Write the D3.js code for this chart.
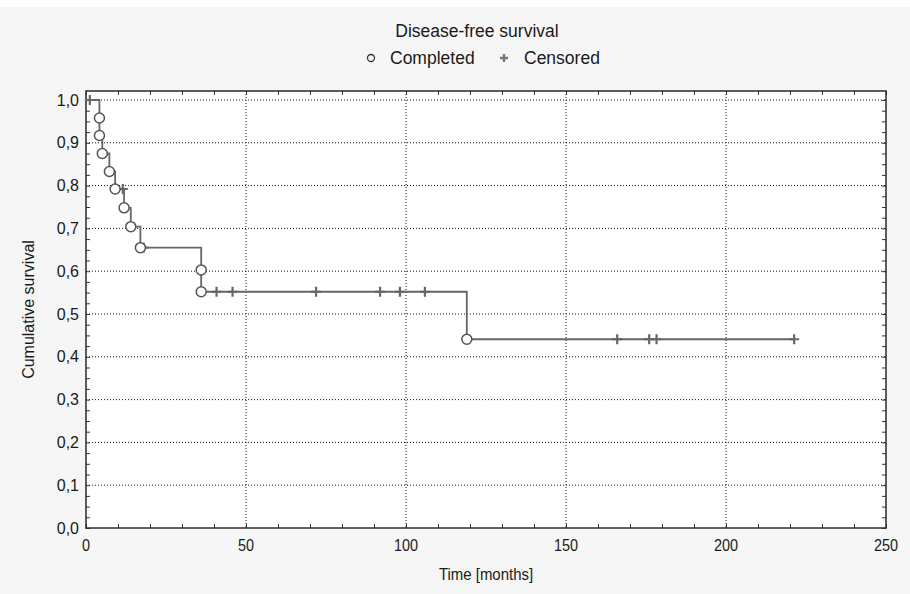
<!DOCTYPE html>
<html>
<head>
<meta charset="utf-8">
<script src="https://cdn.jsdelivr.net/npm/d3@7"></script>
<style>
  body { margin: 0; background: #f5f5f5; }
  svg { display: block; }
  text { font-family: "Liberation Sans", Arial, sans-serif; fill: #1a1a1a; }
</style>
</head>
<body>
<div id="chart"></div>
<script>
// Kaplan-Meier estimates
var eventTimes = [4.2, 4.2, 5.1, 7.3, 9.1, 11.9, 14, 17, 36, 36, 119];
var eventSurv  = [0.958, 0.917, 0.875, 0.833, 0.792, 0.748, 0.704, 0.655, 0.603, 0.552, 0.441];

var censorTimes = [1.2, 11.5, 18, 40.8, 45.8, 71.9, 91.9, 98.1, 105.9, 166, 176, 178.3, 221.3];
var censorSurv  = [1.0, 0.792, 0.655, 0.552, 0.552, 0.552, 0.552, 0.552, 0.552, 0.441, 0.441, 0.441, 0.441];

var xTicks = [0, 50, 100, 150, 200, 250];
var yTicks = [0, 0.1, 0.2, 0.3, 0.4, 0.5, 0.6, 0.7, 0.8, 0.9, 1.0];

var svgWidth = 910;
var svgHeight = 594;

var margin = { top: 91, right: 24, bottom: 66, left: 86 };
var width = svgWidth - margin.left - margin.right;
var height = svgHeight - margin.top - margin.bottom;

var svg = d3.select("#chart")
  .append("svg")
  .attr("width", svgWidth)
  .attr("height", svgHeight);

svg.append("rect")
  .attr("width", svgWidth)
  .attr("height", svgHeight)
  .attr("fill", "#f6f6f6");
svg.append("rect")
  .attr("width", svgWidth)
  .attr("height", 7)
  .attr("fill", "#ffffff");

var chartGroup = svg.append("g")
  .attr("transform", `translate(${margin.left}, ${margin.top})`);

var xScale = d3.scaleLinear().domain([0, 250]).range([0, width]);
var yScale = d3.scaleLinear().domain([0, 1.021]).range([height, 0]);

// plot area
chartGroup.append("rect")
  .attr("width", width)
  .attr("height", height)
  .attr("fill", "#ffffff");

// grid
chartGroup.append("g")
  .selectAll("line")
  .data(yTicks.filter(d => d > 0))
  .enter()
  .append("line")
  .attr("x1", 0).attr("x2", width)
  .attr("y1", d => yScale(d)).attr("y2", d => yScale(d))
  .attr("stroke", "#111")
  .attr("stroke-width", 1)
  .attr("stroke-dasharray", "1,2");

chartGroup.append("g")
  .selectAll("line")
  .data(xTicks.filter(d => d > 0 && d < 250))
  .enter()
  .append("line")
  .attr("y1", 0).attr("y2", height)
  .attr("x1", d => xScale(d)).attr("x2", d => xScale(d))
  .attr("stroke", "#111")
  .attr("stroke-width", 1)
  .attr("stroke-dasharray", "1,2");

// inward ticks on all four sides
var xMinor = d3.range(0, 251, 10);
var yMinor = d3.range(0, 41).map(i => i * 0.025);

var bottomAxis = d3.axisTop(xScale).tickValues(xMinor).tickSize(4).tickFormat("");
var topAxis = d3.axisBottom(xScale).tickValues(xMinor).tickSize(4).tickFormat("");
var leftAxis = d3.axisRight(yScale).tickValues(yMinor).tickSize(4).tickFormat("");
var rightAxis = d3.axisLeft(yScale).tickValues(yMinor).tickSize(4).tickFormat("");

[
  [bottomAxis, `translate(0, ${height})`],
  [topAxis, "translate(0, 0)"],
  [leftAxis, "translate(0, 0)"],
  [rightAxis, `translate(${width}, 0)`]
].forEach(function(a) {
  var g = chartGroup.append("g").attr("transform", a[1]).call(a[0]);
  g.select(".domain").remove();
  g.selectAll(".tick line").attr("stroke", "#333");
});

// frame
chartGroup.append("rect")
  .attr("width", width)
  .attr("height", height)
  .attr("fill", "none")
  .attr("stroke", "#2a2a2a")
  .attr("stroke-width", 1.5);

// tick labels
chartGroup.append("g")
  .selectAll("text")
  .data(yTicks)
  .enter()
  .append("text")
  .attr("x", -7)
  .attr("y", d => yScale(d))
  .attr("dy", "0.35em")
  .attr("text-anchor", "end")
  .attr("font-size", "16px")
  .text(d => d3.format(".1f")(d).replace(".", ","));

// x labels are drawn a little condensed, as in the original
chartGroup.append("g")
  .selectAll("text")
  .data(xTicks)
  .enter()
  .append("text")
  .attr("transform", d => `translate(${xScale(d)}, ${height + 23}) scale(0.85, 1)`)
  .attr("text-anchor", "middle")
  .attr("font-size", "17px")
  .text(d => d);

// axis titles
chartGroup.append("text")
  .attr("transform", `translate(${width / 2}, ${height + 52}) scale(0.88, 1)`)
  .attr("text-anchor", "middle")
  .attr("font-size", "17px")
  .text("Time [months]");

chartGroup.append("text")
  .attr("transform", `translate(${-58}, ${height / 2}) rotate(-90)`)
  .attr("dy", "0.35em")
  .attr("text-anchor", "middle")
  .attr("font-size", "16px")
  .text("Cumulative survival");

// survival step curve
var curvePoints = [[0, 1]];
eventTimes.forEach((t, i) => curvePoints.push([t, eventSurv[i]]));
curvePoints.push([censorTimes[censorTimes.length - 1], censorSurv[censorSurv.length - 1]]);

var line = d3.line()
  .x(d => xScale(d[0]))
  .y(d => yScale(d[1]))
  .curve(d3.curveStepAfter);

chartGroup.append("path")
  .datum(curvePoints)
  .attr("d", line)
  .attr("fill", "none")
  .attr("stroke", "#666")
  .attr("stroke-width", 1.8);

// censored marks
chartGroup.append("g")
  .selectAll("path")
  .data(censorTimes)
  .enter()
  .append("path")
  .attr("transform", (d, i) => `translate(${xScale(d)}, ${yScale(censorSurv[i])})`)
  .attr("d", d3.line()([[-5, 0], [5, 0], [0, 0], [0, -5], [0, 5]]))
  .attr("fill", "none")
  .attr("stroke", "#666")
  .attr("stroke-width", 2.2);

// completed events
chartGroup.append("g")
  .selectAll("circle")
  .data(eventTimes)
  .enter()
  .append("circle")
  .attr("cx", d => xScale(d))
  .attr("cy", (d, i) => yScale(eventSurv[i]))
  .attr("r", 5)
  .attr("fill", "#ffffff")
  .attr("stroke", "#555")
  .attr("stroke-width", 1.5);

// title and legend
svg.append("text")
  .attr("x", 477)
  .attr("y", 37)
  .attr("text-anchor", "middle")
  .attr("font-size", "17.5px")
  .text("Disease-free survival");

var legend = svg.append("g").attr("transform", "translate(0, 58)");
legend.append("circle")
  .attr("cx", 371).attr("cy", 0).attr("r", 3.5)
  .attr("fill", "none").attr("stroke", "#333").attr("stroke-width", 1.3);
legend.append("text")
  .attr("x", 390).attr("y", 0).attr("dy", "0.35em")
  .attr("font-size", "17.5px")
  .text("Completed");
legend.append("path")
  .attr("transform", "translate(504, 0)")
  .attr("d", d3.line()([[-4, 0], [4, 0], [0, 0], [0, -4], [0, 4]]))
  .attr("fill", "none").attr("stroke", "#777").attr("stroke-width", 2.4);
legend.append("text")
  .attr("x", 524).attr("y", 0).attr("dy", "0.35em")
  .attr("font-size", "17.5px")
  .text("Censored");
</script>
</body>
</html>
